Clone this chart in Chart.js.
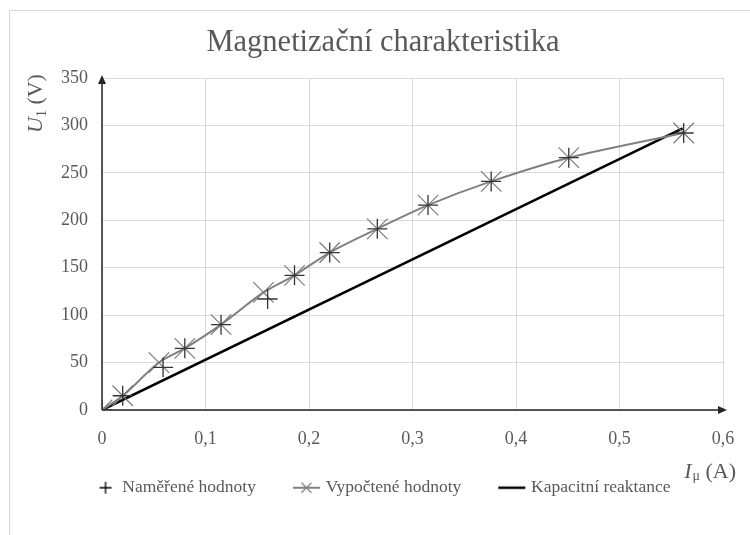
<!DOCTYPE html>
<html>
<head>
<meta charset="utf-8">
<script src="https://cdn.jsdelivr.net/npm/chart.js@4/dist/chart.umd.min.js"></script>
<style>
  html, body { margin: 0; padding: 0; background: #fff; }
</style>
</head>
<body>
<canvas id="canvas-1" width="750" height="535"></canvas>
<script>
// measured values (+)
var measI = [0, 0.02, 0.059, 0.08, 0.115, 0.16, 0.186, 0.22, 0.266, 0.315, 0.376, 0.451, 0.562];
var measU = [0, 15, 45, 65, 90, 117, 142, 166, 191, 216, 241, 266, 292];
// calculated values (x, smooth gray line)
var calcI = [0, 0.02, 0.055, 0.08, 0.115, 0.156, 0.186, 0.22, 0.266, 0.315, 0.376, 0.451, 0.562];
var calcU = [0, 15, 50, 65, 90, 124, 142, 166, 191, 216, 241, 266, 292];
// capacitive reactance line
var reactI = [0, 0.561];
var reactU = [0, 297];

var labels = ['Naměřené hodnoty', 'Vypočtené hodnoty', 'Kapacitní reaktance'];
var xTicks = [0, 0.1, 0.2, 0.3, 0.4, 0.5, 0.6];
var yTicks = [0, 50, 100, 150, 200, 250, 300, 350];
var title = 'Magnetizační charakteristika';

var FONT = '"Liberation Serif", "Times New Roman", serif';
var TXT = '#595959';

function pts(xs, ys) {
  return xs.map(function (x, i) { return { x: x, y: ys[i] }; });
}

// small canvases used as legend symbols
function icon(draw) {
  var c = document.createElement('canvas');
  c.width = 46;
  c.height = 16;
  draw(c.getContext('2d'));
  return c;
}
var legendIcons = [
  icon(function (g) {
    g.strokeStyle = '#000';
    g.lineWidth = 1.3;
    g.beginPath();
    g.moveTo(26, 8); g.lineTo(38, 8);
    g.moveTo(32, 2); g.lineTo(32, 14);
    g.stroke();
  }),
  icon(function (g) {
    g.strokeStyle = '#808080';
    g.lineWidth = 2;
    g.beginPath();
    g.moveTo(16, 8); g.lineTo(43, 8);
    g.stroke();
    g.lineWidth = 1.2;
    g.beginPath();
    g.moveTo(24.5, 3); g.lineTo(34.5, 13);
    g.moveTo(34.5, 3); g.lineTo(24.5, 13);
    g.stroke();
  }),
  icon(function (g) {
    g.strokeStyle = '#000';
    g.lineWidth = 2.5;
    g.beginPath();
    g.moveTo(16, 8); g.lineTo(43, 8);
    g.stroke();
  })
];

var decor = {
  id: 'decor',
  beforeDraw: function (chart) {
    var ctx = chart.ctx;
    ctx.save();
    ctx.strokeStyle = '#d9d9d9';
    ctx.lineWidth = 1;
    ctx.strokeRect(9.5, 10.5, 800, 600);
    ctx.restore();
  },
  beforeDatasetsDraw: function (chart) {
    var ctx = chart.ctx, a = chart.chartArea;
    var x0 = chart.scales.x.getPixelForValue(0);
    var y0 = chart.scales.y.getPixelForValue(0);
    ctx.save();
    ctx.strokeStyle = '#262626';
    ctx.fillStyle = '#262626';
    ctx.lineWidth = 1.5;
    ctx.beginPath();
    ctx.moveTo(x0, y0);
    ctx.lineTo(x0, a.top + 4);
    ctx.moveTo(x0, y0);
    ctx.lineTo(a.right + 1, y0);
    ctx.stroke();
    ctx.beginPath();
    ctx.moveTo(x0, a.top - 3);
    ctx.lineTo(x0 - 4, a.top + 6);
    ctx.lineTo(x0 + 4, a.top + 6);
    ctx.closePath();
    ctx.fill();
    ctx.beginPath();
    ctx.moveTo(a.right + 4, y0);
    ctx.lineTo(a.right - 5, y0 - 4);
    ctx.lineTo(a.right - 5, y0 + 4);
    ctx.closePath();
    ctx.fill();
    ctx.restore();
  },
  afterDraw: function (chart) {
    var ctx = chart.ctx;
    // chart title
    ctx.save();
    ctx.fillStyle = TXT;
    ctx.textAlign = 'center';
    ctx.textBaseline = 'alphabetic';
    ctx.font = '30.5px ' + FONT;
    ctx.fillText(title, 383, 51);
    ctx.restore();

    // y axis title: U1 (V)
    ctx.save();
    ctx.fillStyle = TXT;
    ctx.textBaseline = 'alphabetic';
    ctx.translate(42, 133);
    ctx.rotate(-Math.PI / 2);
    ctx.textAlign = 'left';
    ctx.font = 'italic 22px ' + FONT;
    ctx.fillText('U', 0, 0);
    var w = ctx.measureText('U').width;
    ctx.font = '14px ' + FONT;
    ctx.fillText('1', w, 4);
    w += ctx.measureText('1').width;
    ctx.font = '22px ' + FONT;
    ctx.fillText(' (V)', w, 0);
    ctx.restore();

    // x axis title: Iμ (A)
    ctx.save();
    ctx.fillStyle = TXT;
    ctx.textAlign = 'left';
    ctx.font = '22px ' + FONT;
    var wA = ctx.measureText(' (A)').width;
    ctx.font = '14px ' + FONT;
    var wMu = ctx.measureText('μ').width;
    ctx.font = 'italic 22px ' + FONT;
    var wI = ctx.measureText('I').width;
    var xs = 735 - wA - wMu - wI;
    var yb = 472;
    ctx.fillText('I', xs, yb);
    ctx.font = '14px ' + FONT;
    ctx.fillText('μ', xs + wI + 1, yb + 4);
    ctx.font = '22px ' + FONT;
    ctx.fillText(' (A)', xs + wI + wMu + 1, yb);
    ctx.restore();
  }
};

var chart = new Chart(document.getElementById('canvas-1'), {
  type: 'scatter',
  data: {
    datasets: [{
      label: labels[0],
      data: pts(measI, measU),
      showLine: false,
      pointStyle: 'cross',
      pointRadius: 10,
      pointHoverRadius: 10,
      pointBorderWidth: 1.3,
      borderColor: '#333333',
      backgroundColor: '#333333',
      order: 1
    }, {
      label: labels[1],
      data: pts(calcI, calcU),
      showLine: true,
      tension: 0.3,
      borderColor: '#808080',
      borderWidth: 2,
      pointStyle: 'crossRot',
      pointRadius: 14.5,
      pointHoverRadius: 14.5,
      pointBorderWidth: 1.2,
      pointBorderColor: '#7a7a7a',
      backgroundColor: '#808080',
      order: 2
    }, {
      label: labels[2],
      data: pts(reactI, reactU),
      showLine: true,
      borderColor: '#000000',
      borderWidth: 2.5,
      pointRadius: 0,
      pointHoverRadius: 0,
      backgroundColor: '#000000',
      order: 3
    }]
  },
  options: {
    responsive: false,
    animation: false,
    devicePixelRatio: 1,
    layout: { padding: { left: 17, right: 17, top: 78, bottom: 28.5 } },
    plugins: {
      title: { display: false },
      legend: {
        position: 'bottom',
        labels: {
          usePointStyle: true,
          pointStyleWidth: 34,
          padding: 27,
          color: TXT,
          font: { family: FONT, size: 17.5 },
          generateLabels: function (c) {
            return Chart.defaults.plugins.legend.labels.generateLabels(c).map(function (l, i) {
              l.pointStyle = legendIcons[i];
              return l;
            });
          }
        }
      },
      tooltip: { enabled: false }
    },
    scales: {
      x: {
        type: 'linear',
        min: 0,
        max: 0.6,
        afterFit: function (s) {
          s.height = 42;
          s.paddingLeft = 0;
          s.paddingRight = 27;
        },
        afterBuildTicks: function (s) { s.ticks = xTicks.map(function (v) { return { value: v }; }); },
        ticks: {
          padding: 18,
          color: TXT,
          font: { family: FONT, size: 18 },
          callback: function (v) { return String(Math.round(v * 10) / 10).replace('.', ','); }
        },
        grid: { color: '#d9d9d9', drawTicks: false },
        border: { display: false }
      },
      y: {
        min: 0,
        max: 350,
        afterFit: function (s) { s.width = 85; },
        afterBuildTicks: function (s) { s.ticks = yTicks.map(function (v) { return { value: v }; }); },
        ticks: {
          padding: 14,
          color: TXT,
          font: { family: FONT, size: 18 }
        },
        grid: { color: '#d9d9d9', drawTicks: false },
        border: { display: false }
      }
    }
  },
  plugins: [decor]
});
</script>
</body>
</html>
